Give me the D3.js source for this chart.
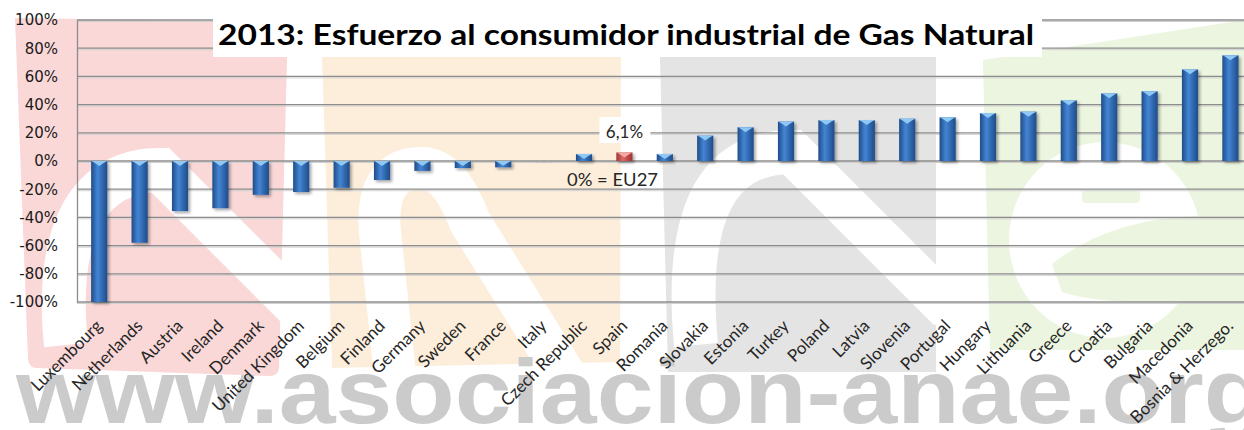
<!DOCTYPE html>
<html>
<head>
<meta charset="utf-8">
<script src="https://cdn.jsdelivr.net/npm/d3@7"></script>
<style>
  body { margin: 0; background: #fff; }
  svg { display: block; }
</style>
</head>
<body>
<div id="chart"></div>
<script>
// chart data
var countries = ["Luxembourg", "Netherlands", "Austria", "Ireland", "Denmark", "United Kingdom",
  "Belgium", "Finland", "Germany", "Sweden", "France", "Italy", "Czech Republic", "Spain",
  "Romania", "Slovakia", "Estonia", "Turkey", "Poland", "Latvia", "Slovenia", "Portugal",
  "Hungary", "Lithuania", "Greece", "Croatia", "Bulgaria", "Macedonia", "Bosnia & Herzego."];
var values = [-1.00, -0.58, -0.355, -0.335, -0.24, -0.22, -0.19, -0.135, -0.07, -0.05, -0.045,
  -0.01, 0.05, 0.061, 0.05, 0.18, 0.24, 0.28, 0.29, 0.29, 0.30, 0.31, 0.34, 0.35, 0.43, 0.48,
  0.495, 0.65, 0.75];
var yTicks = [-1, -0.8, -0.6, -0.4, -0.2, 0, 0.2, 0.4, 0.6, 0.8, 1];
var highlight = "Spain";
var faded = "Italy";
var titleText = "2013: Esfuerzo al consumidor industrial de Gas Natural";
var spainLabel = "6,1%";
var refLabel = "0% = EU27";
var watermark = "www.asociacion-anae.org";

var W = 1244, H = 430;
var plot = { left: 77, top: 20, bottom: 302 };

var svg = d3.select('#chart').append('svg')
  .attr('width', W).attr('height', H);

var defs = svg.append('defs');

function barGradient(id, edge, mid, light) {
  var g = defs.append('linearGradient').attr('id', id)
    .attr('x1', 0).attr('x2', 1).attr('y1', 0).attr('y2', 0);
  g.append('stop').attr('offset', 0).attr('stop-color', edge);
  g.append('stop').attr('offset', 0.4).attr('stop-color', light);
  g.append('stop').attr('offset', 0.65).attr('stop-color', mid);
  g.append('stop').attr('offset', 1).attr('stop-color', edge);
}
barGradient('blueBar', '#1f4c88', '#336cb4', '#4485d4');
barGradient('redBar', '#9c3533', '#c24f4c', '#dd6a66');

var shadow = defs.append('filter').attr('id', 'shadow')
  .attr('x', '-50%').attr('y', '-50%').attr('width', '200%').attr('height', '200%');
shadow.append('feDropShadow').attr('dx', 2).attr('dy', 2)
  .attr('stdDeviation', 1.5).attr('flood-color', '#000').attr('flood-opacity', 0.35);

// ---- background watermark (anae logo) ----
var wm = svg.append('g').attr('class', 'watermark');

// pink "a"
wm.append('path').attr('fill', '#fad8d8')
  .attr('d', 'M15,18 L288,22 L279,368 Q278,376 270,376 L36,368 Q29,367 28,360 Z');
wm.append('path').attr('fill', 'none').attr('stroke', '#fff').attr('stroke-width', 44)
  .attr('d', 'M66,345 C54,225 92,170 160,170 L300,310');
// orange "n"
wm.append('path').attr('fill', '#fdeedc')
  .attr('d', 'M322,57 L621,57 L620,362 L332,368 Z');
wm.append('path').attr('fill', 'none').attr('stroke', '#fff').attr('stroke-width', 42)
  .attr('d', 'M395,375 L380,232 C376,188 392,168 421,168 C442,168 456,186 470,222 L568,380');
// gray "a"
wm.append('path').attr('fill', '#e4e4e4')
  .attr('d', 'M660,57 L936,57 L936,372 L668,372 Z');
wm.append('path').attr('fill', 'none').attr('stroke', '#fff').attr('stroke-width', 44)
  .attr('d', 'M696,345 C684,215 716,152 792,152 L950,310');
// green "e"
wm.append('path').attr('fill', '#ebf5df')
  .attr('d', 'M983,60 L1244,20 L1244,350 L990,350 Z');
wm.append('ellipse').attr('fill', '#fff')
  .attr('cx', 1105).attr('cy', 240).attr('rx', 96).attr('ry', 98);
wm.append('rect').attr('fill', '#ebf5df')
  .attr('x', 1082).attr('y', 190).attr('width', 58).attr('height', 13).attr('rx', 4);
wm.append('path').attr('fill', '#ebf5df')
  .attr('d', 'M1052,264 Q1110,218 1200,216 L1244,214 L1244,300 L1150,302 Q1090,302 1062,292 Z');

wm.append('text')
  .attr('x', 16).attr('y', 423)
  .attr('textLength', 1250).attr('lengthAdjust', 'spacingAndGlyphs')
  .style('font-family', '"Liberation Sans", Arial, sans-serif')
  .style('font-weight', 'bold').style('font-size', '90px')
  .style('fill', '#cbcbcb')
  .text(watermark);

// ---- scales ----
var x = d3.scaleBand().domain(countries)
  .range([plot.left, plot.left + 40.4 * 29.1])
  .paddingInner(0.6).paddingOuter(0.35);
var y = d3.scaleLinear().domain([-1, 1]).range([plot.bottom, plot.top]);

// gridlines
svg.append('g').selectAll('line.shade').data(yTicks).enter().append('line')
  .attr('x1', plot.left).attr('x2', W)
  .attr('y1', function(d) { return y(d) + 1.5; }).attr('y2', function(d) { return y(d) + 1.5; })
  .style('stroke', '#d0d0d0').style('stroke-width', 1);
svg.append('g').selectAll('line.grid').data(yTicks).enter().append('line')
  .attr('x1', plot.left).attr('x2', W)
  .attr('y1', function(d) { return y(d); }).attr('y2', function(d) { return y(d); })
  .style('stroke', '#8c8c8c').style('stroke-width', 1.3);

// y axis
var yAxis = d3.axisLeft(y).tickValues(yTicks).tickSize(0).tickPadding(19)
  .tickFormat(function(d) { return Math.round(d * 100) + '%'; });
var ya = svg.append('g').attr('transform', 'translate(' + plot.left + ',0)').call(yAxis);
ya.select('.domain').style('stroke', '#8c8c8c').style('stroke-width', 1.3);
ya.selectAll('text')
  .style('font-family', '"DejaVu Sans", Verdana, sans-serif')
  .style('font-size', '15px').style('fill', '#1a1a1a');

// title box
svg.append('rect').attr('x', 213).attr('y', 16).attr('width', 829).attr('height', 41)
  .style('fill', '#fff');
svg.append('text').attr('x', 218).attr('y', 45)
  .attr('textLength', 816).attr('lengthAdjust', 'spacingAndGlyphs')
  .style('font-family', 'Lato, "Open Sans", sans-serif').style('font-weight', 'bold')
  .style('font-size', '29px').style('fill', '#000')
  .text(titleText);

// bars
var bars = svg.append('g').selectAll('g.bar')
  .data(countries.map(function(c, i) { return { name: c, value: values[i] }; }))
  .enter().append('g').attr('class', 'bar')
  .style('opacity', function(d) { return d.name === faded ? 0.15 : 1; });

bars.append('rect')
  .attr('x', function(d) { return x(d.name); })
  .attr('width', x.bandwidth())
  .attr('y', function(d) { return y(Math.max(0, d.value)); })
  .attr('height', function(d) { return Math.abs(y(d.value) - y(0)); })
  .attr('filter', 'url(#shadow)')
  .style('fill', function(d) { return d.name === highlight ? 'url(#redBar)' : 'url(#blueBar)'; });

// bevel on top edge of each bar
bars.append('path')
  .attr('d', function(d) {
    var x0 = x(d.name), x1 = x0 + x.bandwidth(), t = y(Math.max(0, d.value));
    var h = Math.min(5, Math.abs(y(d.value) - y(0)) - 1.5);
    return 'M' + x0 + ',' + t + 'L' + x1 + ',' + t + 'L' + (x1 - 3) + ',' + (t + 1.5) +
      'L' + (x0 + x.bandwidth() / 2) + ',' + (t + h) + 'L' + (x0 + 3) + ',' + (t + 1.5) + 'Z';
  })
  .style('fill', function(d) { return d.name === highlight ? '#f2a9a7' : '#8fc8f4'; });

// x labels
svg.append('g').selectAll('text.xl').data(countries).enter().append('text')
  .attr('transform', function(d) {
    return 'translate(' + (x(d) + x.bandwidth() / 2 + 4) + ',327) rotate(-45)';
  })
  .attr('text-anchor', 'end')
  .style('font-family', 'Lato, "Open Sans", sans-serif')
  .style('font-size', '17px').style('fill', '#262626')
  .text(function(d) { return d; });

// Spain data label
var sx = x(highlight) + x.bandwidth() / 2;
svg.append('rect').attr('x', sx - 25).attr('y', 117).attr('width', 51).attr('height', 26)
  .style('fill', '#fff');
svg.append('text').attr('x', sx).attr('y', 138).attr('text-anchor', 'middle')
  .style('font-family', 'Lato, "Open Sans", sans-serif')
  .style('font-size', '17px').style('fill', '#262626')
  .text(spainLabel);

// reference note
svg.append('text').attr('x', 567).attr('y', 186)
  .attr('textLength', 91).attr('lengthAdjust', 'spacingAndGlyphs')
  .style('font-family', 'Lato, "Open Sans", sans-serif')
  .style('font-size', '18px').style('fill', '#262626')
  .text(refLabel);
</script>
</body>
</html>
